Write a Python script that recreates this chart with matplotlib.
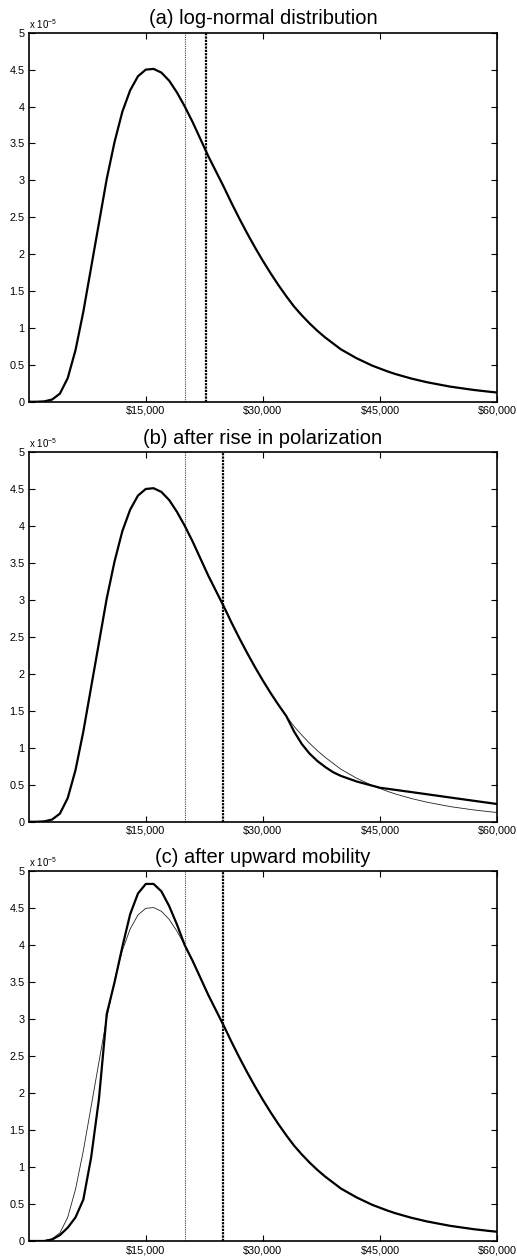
import numpy as np
import matplotlib.pyplot as plt
from matplotlib.ticker import FuncFormatter

plt.rcParams['font.family'] = ['Liberation Sans', 'DejaVu Sans']
plt.rcParams['mathtext.default'] = 'regular'

# income grid (dollars) and densities in units of 1e-5
income = np.arange(0, 61000, 1000)

lognormal = [0.0, 0.0, 0.005, 0.03, 0.11, 0.32, 0.70, 1.22, 1.82, 2.42,
             3.02, 3.52, 3.93, 4.22, 4.41, 4.50, 4.51, 4.46, 4.35, 4.19,
             4.00, 3.79, 3.56, 3.33, 3.12, 2.91, 2.69, 2.48, 2.28, 2.09,
             1.91, 1.74, 1.58, 1.43, 1.29, 1.17, 1.06, 0.96, 0.87, 0.79,
             0.71, 0.65, 0.59, 0.54, 0.49, 0.45, 0.41, 0.375, 0.345, 0.315,
             0.29, 0.265, 0.245, 0.225, 0.205, 0.19, 0.175, 0.16, 0.148, 0.136,
             0.125]

# polarized upper tail: thinner middle class, fatter top
polar_income = [34000, 35000, 36000, 37000, 38000, 39000, 40000, 42000,
                45000, 50000, 55000, 60000]
polar_tail = [1.22, 1.05, 0.92, 0.82, 0.74, 0.67, 0.62, 0.545,
              0.46, 0.387, 0.313, 0.24]

# upward mobility: lower incomes pushed into the middle
mobility_income = np.arange(0, 21000, 1000)
mobility_low = [0.0, 0.0, 0.0, 0.02, 0.08, 0.18, 0.32, 0.56, 1.13, 1.92,
                3.07, 3.50, 3.98, 4.42, 4.70, 4.83, 4.83, 4.73, 4.53, 4.28,
                4.00]

median_income = 20000
mean_income = [22700, 24900, 24900]

titles = ['(a) log-normal distribution',
          '(b) after rise in polarization',
          '(c) after upward mobility']

n_keep = 34  # points of the log-normal kept before the polarized tail
polar_x = list(income[:n_keep]) + polar_income
polar_y = lognormal[:n_keep] + polar_tail

mob_x = list(mobility_income) + list(income[21:])
mob_y = mobility_low + lognormal[21:]

fig = plt.figure(figsize=(5.17, 12.59), dpi=100)
boxes = [[0.0555, 0.6809, 0.9058, 0.2931],
         [0.0555, 0.3473, 0.9058, 0.2937],
         [0.0555, 0.0143, 0.9058, 0.2936]]

for i, box in enumerate(boxes):
    ax = fig.add_axes(box)

    ax.axvline(median_income, color='#444444', linestyle=(0, (1, 1)),
               linewidth=0.8)
    ax.axvline(mean_income[i], color='black', linestyle=(0, (1, 0.5)),
               linewidth=1.6)

    if i == 0:
        ax.plot(income, lognormal, color='black', linewidth=1.6)
    elif i == 1:
        ax.plot(income, lognormal, color='#222222', linewidth=0.6)
        ax.plot(polar_x, polar_y, color='black', linewidth=1.6)
    else:
        ax.plot(income, lognormal, color='#222222', linewidth=0.6)
        ax.plot(mob_x, mob_y, color='black', linewidth=1.6)

    ax.set_xlim(0, 60000)
    ax.set_ylim(0, 5)
    ax.set_xticks([15000, 30000, 45000, 60000])
    ax.xaxis.set_major_formatter(FuncFormatter(lambda v, p: r'\$' + f'{int(v):,}'))
    ax.set_yticks(np.arange(0, 5.01, 0.5))
    ax.yaxis.set_major_formatter(FuncFormatter(lambda v, p: f'{v:g}'))
    ax.tick_params(direction='in', length=4, width=0.8, labelsize=7.8,
                   top=True, right=True, pad=3)
    for s in ax.spines.values():
        s.set_linewidth(1.2)

    ax.text(0.0, 1.006, r'x 10$^{-5}$', transform=ax.transAxes,
            fontsize=7, ha='left', va='bottom')
    ax.set_title(titles[i], fontsize=14.5, pad=6)

fig.savefig('out.png', dpi=100)
